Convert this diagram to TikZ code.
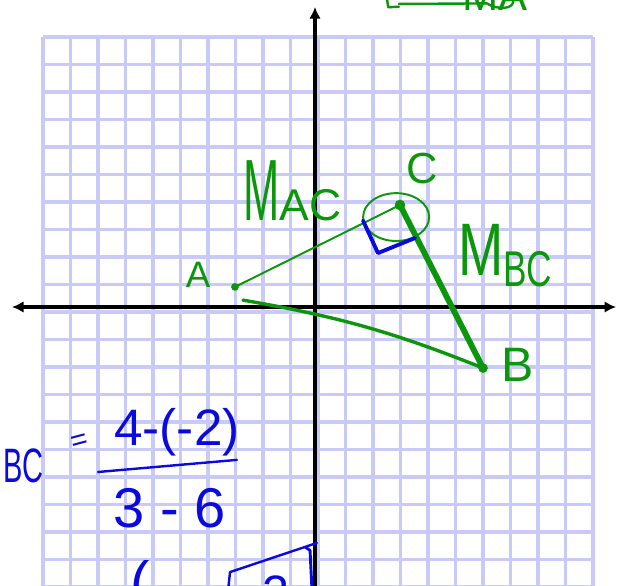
\documentclass[tikz,border=0pt]{standalone}
\usepackage{fontspec}
\setmainfont{Liberation Sans}
\usetikzlibrary{arrows.meta}
\definecolor{pengreen}{HTML}{0B960B}
\definecolor{penblue}{HTML}{0A0AE0}
\definecolor{gridblue}{HTML}{CACAF8}

\tikzset{
  pen/.style={draw=pengreen, line cap=round, line join=round},
  bluepen/.style={draw=penblue, line cap=round, line join=round},
  ink/.style={text=pengreen, inner sep=0pt},
  blueink/.style={text=penblue, inner sep=0pt},
  dot/.style={circle, fill=pengreen, inner sep=0pt},
}

\begin{document}
\begin{tikzpicture}[>=Latex]
  \useasboundingbox (-11.455,-10.145) rectangle (10.982,11.164);

  % Gitter
  \draw[gridblue, line width=3.5pt, line join=round, shift={(-9.891,-10.182)}] (0,0) grid (20,20);

  % Achsen
  \draw[line width=4.5pt, {Latex[length=12pt,width=12pt]}-{Latex[length=12pt,width=12pt]}] (-11.02,0) -- (10.95,0);
  \draw[line width=4.5pt, -{Latex[length=12pt,width=12pt]}] (0,-10.4) -- (0,10.91);

  % Punkte
  \node[dot, minimum size=8pt] (A) at (-2.91,0.73) {};
  \node[dot, minimum size=10pt] (B) at (6.11,-2.22) {};
  \node[dot, minimum size=11pt] (C) at (3.09,3.71) {};
  \coordinate (Astart) at (-2.62,0.25);

  % Dreieck
  \draw[pen, line width=2pt] (A.center) -- (C.center);
  \draw[pen, line width=3.5pt] (Astart) to[bend left=6] (B.center);
  \draw[pen, line width=6pt] (C.center) -- (B.center);

  % Kreis um C und rechter Winkel
  \draw[pen, line width=2pt] (2.95,3.27) ellipse [x radius=1.2, y radius=0.87];
  \draw[bluepen, line width=4pt] (1.745,3.145) -- (2.29,1.96) -- (3.64,2.51);

  % Beschriftung
  \node[ink, font=\fontsize{38}{38}\selectfont] (labA) at (-4.25,1.16) {A};
  \node[ink, font=\fontsize{45}{45}\selectfont] (labC) at (3.89,5.02) {C};
  \node[ink, font=\fontsize{50}{50}\selectfont] (labB) at (7.38,-2.11) {B};
  \node[ink, anchor=base west] (mAC) at (-2.62,3.16)
    {{\fontsize{90}{90}\selectfont\scalebox{0.5}[1]{M}}{\fontsize{46}{46}\selectfont AC}};
  \node[ink, anchor=base west] (mBC) at (5.2,1.16)
    {{\fontsize{77}{77}\selectfont\scalebox{0.73}[1]{M}}\raisebox{-12pt}{\fontsize{52}{52}\selectfont\scalebox{0.7}[1]{BC}}};

  % oben rechts (abgeschnitten)
  \node[ink, anchor=base west, font=\fontsize{45}{45}\selectfont] (topMA) at (5.35,10.8) {MA};
  \draw[pen, line width=2.5pt] (2.62,11.2) -- (2.66,10.9) -- (3.05,10.92);
  \draw[pen, line width=2.5pt] (3.05,11.02) -- (6.25,11.04) .. controls (6.6,10.8) and (7.3,10.8) .. (7.2,11.2);

  % Steigung BC
  \node[blueink, anchor=west, font=\fontsize{50}{50}\selectfont] (bc) at (-11.35,-5.78) {\scalebox{0.6}[1]{BC}};
  \node[blueink, rotate=15, font=\fontsize{30}{30}\selectfont] (eq) at (-8.55,-4.91) {=};
  \node[blueink, font=\fontsize{53}{53}\selectfont] (num) at (-5.02,-4.55) {4-(-2)};
  \draw[bluepen, line width=2.5pt] (-7.89,-6.0) -- (-2.84,-5.56);
  \node[blueink, font=\fontsize{58}{58}\selectfont] (den) at (-5.27,-7.31) {3 - 6};

  % unten (abgeschnitten)
  \node[blueink, anchor=north, font=\fontsize{60}{60}\selectfont] (paren) at (-6.36,-9.2) {(};
  \node[blueink, anchor=north, font=\fontsize{50}{50}\selectfont] (two) at (-1.42,-9.75) {2};
  \draw[bluepen, line width=2.5pt] (-3.16,-10.3) -- (-3.09,-9.64) -- (0.07,-8.58);
  \draw[bluepen, line width=3pt] (-0.36,-8.73) -- (-0.18,-8.85) -- (-0.11,-10.3);
\end{tikzpicture}
\end{document}
